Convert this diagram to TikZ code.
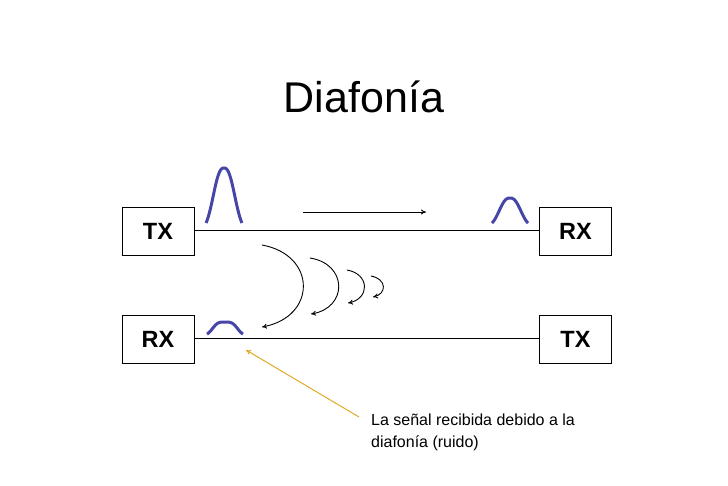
\documentclass[tikz,border=0pt]{standalone}
\usepackage{fontspec}
\setmainfont{Liberation Sans}
\usetikzlibrary{arrows.meta}
\definecolor{pulseblue}{RGB}{70,70,168}
\definecolor{noteyellow}{RGB}{222,170,40}
\tikzset{
  unitbox/.style={draw=black, line width=0.9pt, minimum width=72pt, minimum height=48pt, inner sep=0pt, font=\fontsize{23.5}{27}\selectfont\bfseries},
  wire/.style={draw=black, line width=1pt},
  pulse/.style={draw=pulseblue, line width=3pt, smooth, samples=61},
  xtalk/.style={draw=black, line width=0.9pt, -{To[length=5pt,width=5pt]}},
}
\begin{document}
\begin{tikzpicture}[x=1pt,y=-1pt]
\useasboundingbox (0,0) rectangle (728,485);
\node (title) at (364,97) {\fontsize{43}{50}\selectfont Diafonía};
\node[unitbox] (tx1) at (158,231) {TX};
\node[unitbox] (rx1) at (575.5,231) {RX};
\node[unitbox] (rx2) at (158,339.5) {RX};
\node[unitbox] (tx2) at (575.5,339.5) {TX};
\draw[wire] (tx1.east |- 0,230) -- (rx1.west |- 0,230);
\draw[wire] (rx2.east |- 0,338) -- (tx2.west |- 0,338);
% pulses
\draw[pulse] plot[domain=206:242] (\x,{230.4-62.4*exp(-((abs(\x-224)+0.01)/13.3)^2.5)});
\draw[pulse] plot[domain=492:528] (\x,{226.4-28.4*exp(-((abs(\x-510)+0.01)/13.3)^2.5)});
\draw[pulse] plot[domain=207:243] (\x,{335.1-13.1*exp(-((abs(\x-225)+0.01)/13.9)^3.5)});
% forward arrow
\coordinate (fa) at (303,212);
\coordinate (fb) at (426,212);
\draw[black, line width=0.9pt, -{To[length=5pt,width=5pt]}] (fa) -- (fb);
% crosstalk arcs
\coordinate (a1s) at (262,245); \coordinate (a1e) at (262,327);
\coordinate (a2s) at (310,258); \coordinate (a2e) at (311,314);
\coordinate (a3s) at (347,270); \coordinate (a3e) at (348,303);
\coordinate (a4s) at (371,276); \coordinate (a4e) at (373,297);
\draw[xtalk] (a1s) .. controls (317,255) and (317,317) .. (a1e);
\draw[xtalk] (a2s) .. controls (348,264) and (348,308) .. (a2e);
\draw[xtalk] (a3s) .. controls (370,274) and (370,299) .. (a3e);
\draw[xtalk] (a4s) .. controls (387,279) and (387,294) .. (a4e);
% note
\node[anchor=west, align=left, inner sep=0pt, font=\fontsize{16}{22}\selectfont] (note) at (371,432) {La señal recibida debido a la\\diafonía (ruido)};
\coordinate (ns) at (359,417);
\coordinate (ne) at (246,350);
\draw[noteyellow, line width=1pt, -{To[length=5pt,width=5pt]}] (ns) -- (ne);
\end{tikzpicture}
\end{document}
